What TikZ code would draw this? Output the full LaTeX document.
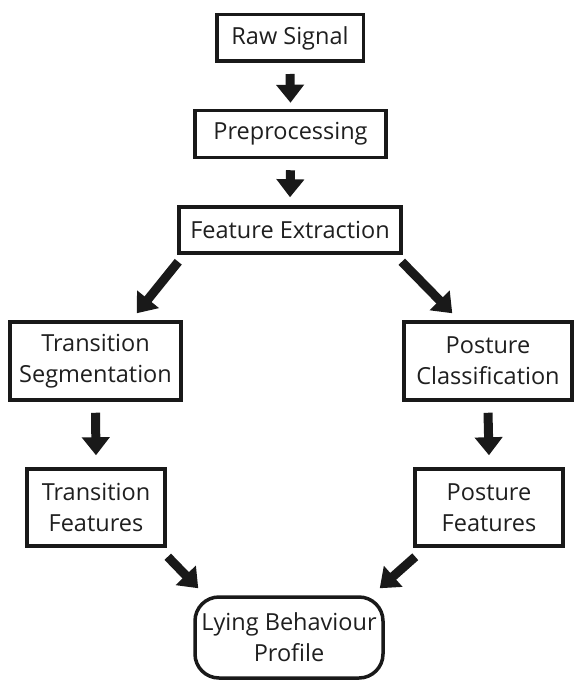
\documentclass[tikz,border=0pt]{standalone}
\usepackage{fontspec}
\setmainfont{Open Sans}
\usetikzlibrary{arrows.meta}
\begin{document}
\begin{tikzpicture}[x=1pt,y=-1pt,
  box/.style={draw=black!90, line width=3.5pt, align=center, inner sep=0pt,
    font=\fontsize{23.5}{31}\selectfont, text=black!88},
  arr/.style={line width=9pt, -{Triangle[width=27pt,length=18pt]}, black!90},
]
\useasboundingbox (0,0) rectangle (574,682);
\node[box, minimum width=146.5pt, minimum height=46.5pt] (raw) at (290,38) {Raw Signal};
\node[box, minimum width=191pt, minimum height=47pt] (pre) at (290.5,134) {Preprocessing};
\node[box, minimum width=222pt, minimum height=46pt] (fe) at (290,230) {Feature Extraction};
\node[box, minimum width=171pt, minimum height=78pt] (ts) at (95.5,361) {Transition\\Segmentation};
\node[box, minimum width=168pt, minimum height=78pt] (pc) at (488,361) {Posture\\Classification};
\node[box, minimum width=138pt, minimum height=77pt] (tf) at (96,507.5) {Transition\\Features};
\node[box, minimum width=148pt, minimum height=77pt] (pf) at (489,507.5) {Posture\\Features};
\node[box, rounded corners=24pt, minimum width=188pt, minimum height=81pt] (lbp) at (289,637.5) {Lying Behaviour\\Profile};

\draw[arr] ([yshift=-11pt]raw.south) -- ([yshift=6pt]pre.north);
\draw[arr] ([yshift=-11pt]pre.south) -- ([yshift=8pt]fe.north);
\draw[arr] ([shift={(1,7)}]fe.south west) -- ([shift={(-46,-7)}]ts.north east);
\draw[arr] ([shift={(-1,7)}]fe.south east) -- ([shift={(50,-7)}]pc.north west);
\draw[arr] ([yshift=-11pt]ts.south) -- ([yshift=12pt]tf.north);
\draw[arr] ([yshift=-11pt]pc.south) -- ([yshift=12pt]pf.north);
\draw[arr] ([shift={(1,9)}]tf.south east) -- ([shift={(5,-7)}]lbp.north west);
\draw[arr] ([shift={(2,9)}]pf.south west) -- ([shift={(-5,-7)}]lbp.north east);
\end{tikzpicture}
\end{document}
